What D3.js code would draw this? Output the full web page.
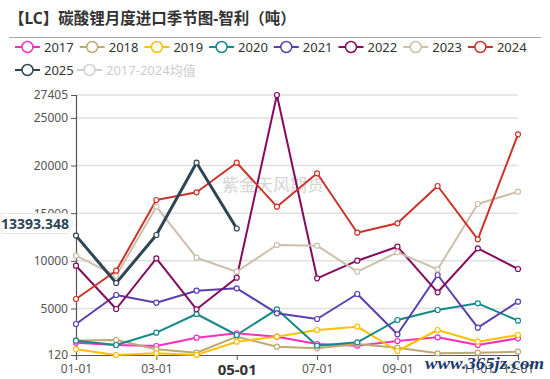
<!DOCTYPE html>
<html><head><meta charset="utf-8">
<script src="https://cdn.jsdelivr.net/npm/d3@7/dist/d3.min.js"></script>
<style>body{margin:0;background:#fff;}svg{display:block;font-family:"Noto Sans","Noto Sans CJK SC",sans-serif;}</style>
</head><body><svg id="c" width="550" height="379"></svg>
<script>
const months = ["01-01","02-01","03-01","04-01","05-01","06-01","07-01","08-01","09-01","10-01","11-01","12-01"];
const xTickLabels = ["01-01","03-01","05-01","07-01","09-01","11-01","12-01"];
const yTicks = [120, 5000, 10000, 15000, 20000, 25000, 27405];
const seriesNames = ["2017","2018","2019","2020","2021","2022","2023","2024","2025","2017-2024均值"];
const colors = ["#ff2fbd","#bcaa72","#ffc000","#14898b","#5a3fb0","#850a5f","#cdbfab","#cc3329","#2f4554","#d0d0d0"];
const s2017 = [1411,1169,1064,1936,2397,2041,1274,1096,1589,1977,1169,1872];
const s2018 = [1650,1694,718,361,2041,991,823,1274,886,298,361,466];
const s2019 = [718,120,298,130,1516,2041,2744,3090,540,2744,1516,2219];
const s2020 = [1621,1169,2460,4422,2219,4916,1096,1453,3793,4843,5542,3720];
const s2021 = [3373,6416,5609,6868,7120,4496,3898,6521,2292,8515,2985,5714];
const s2022 = [9491,4947,10268,4916,8232,27405,8169,10016,11485,6700,11317,9145];
const s2023 = [10540,8431,15683,10330,8861,11663,11590,8861,10897,9113,15966,17257];
const s2024 = [5997,8966,16386,17194,20300,15683,19187,12954,13940,17855,12262,23280];
const s2025 = [12650,7676,12713,20300,13393];
const pointerValue = 13393.348;
const pointerMonth = "05-01";

const data = [s2017,s2018,s2019,s2020,s2021,s2022,s2023,s2024,s2025];
const svg = d3.select("#c");
const x = d3.scalePoint().domain(months).range([76, 518]);
const y = d3.scaleLinear().domain([120, 27405]).range([355, 95]);

// title
svg.append("text").attr("x", 9).attr("y", 24).attr("font-size", 15.5).attr("font-weight", "bold")
  .attr("fill", "#333").text("【LC】碳酸锂月度进口季节图-智利（吨）");
svg.append("line").attr("x1", 9).attr("x2", 541).attr("y1", 37.5).attr("y2", 37.5)
  .attr("stroke", "#aaa").attr("stroke-width", 1);

// legend
seriesNames.forEach((n, i) => {
  const row = i < 8 ? 0 : 1;
  const col = i < 8 ? i : i - 8;
  const lx = 15 + col * 64.7 - (i===9 ? 2.7 : 0);
  const ly = row === 0 ? 47 : 70;
  const g = svg.append("g").attr("transform", `translate(${lx},${ly})`);
  g.append("line").attr("x1", 0).attr("x2", 25).attr("y1", 0).attr("y2", 0).attr("stroke", colors[i]).attr("stroke-width", 2);
  g.append("circle").attr("cx", 12.5).attr("cy", 0).attr("r", 5.5).attr("fill", "#fff").attr("stroke", colors[i]).attr("stroke-width", 1.5);
  g.append("text").attr("x", 29).attr("y", 4.5).attr("font-size", 13).attr("fill", i === 9 ? "#ccc" : "#333").text(n);
});

// grid
svg.append("g").selectAll("line").data(yTicks.filter(t => t > 120)).join("line")
  .attr("x1", 76).attr("x2", 518).attr("y1", d => y(d)).attr("y2", d => y(d))
  .attr("stroke", "#e0e0e0").attr("stroke-width", 1.5);

// watermark
svg.append("text").attr("x", 222).attr("y", 191).attr("font-size", 17).attr("fill", "#d4d4d4").text("紫金天风期货");

// axes
const yAxis = d3.axisLeft(y).tickValues(yTicks).tickSize(5).tickPadding(3).tickFormat(d3.format("d"));
const gy = svg.append("g").attr("transform", "translate(76,0)").call(yAxis);
gy.select(".domain").attr("stroke", "#555").attr("stroke-width", 1.2);
gy.selectAll(".tick line").attr("stroke", "#555");
gy.selectAll("text").attr("font-size", 12).attr("fill", "#555").attr("font-family", "Noto Sans");

const xAxis = d3.axisBottom(x).tickValues(xTickLabels).tickSize(5).tickPadding(4);
const gx = svg.append("g").attr("transform", "translate(0,355)").call(xAxis);
gx.select(".domain").attr("stroke", "#555").attr("stroke-width", 1.2);
gx.selectAll(".tick line").attr("stroke", "#555");
gx.selectAll("text").attr("font-size", 12).attr("fill", "#555").attr("font-family", "Noto Sans")
  .filter(d => d === pointerMonth).attr("font-size", 15).attr("font-weight", "bold").attr("fill", "#333");

// lines
const line = d3.line().x((d, i) => x(months[i])).y(d => y(d));
data.forEach((s, k) => {
  svg.append("path").datum(s).attr("d", line).attr("fill", "none")
    .attr("stroke", colors[k]).attr("stroke-width", k === 8 ? 3 : 2).attr("stroke-linejoin", "round");
});
data.forEach((s, k) => {
  svg.append("g").selectAll("circle").data(s).join("circle")
    .attr("cx", (d, i) => x(months[i])).attr("cy", d => y(d)).attr("r", 2.5)
    .attr("fill", "#fff").attr("stroke", colors[k]).attr("stroke-width", 1.2);
});

// y axis pointer label
const py = y(pointerValue) - 5;
const lg = svg.append("g");
lg.append("path").attr("d", `M1,${py-10} H67 L73,${py} L67,${py+10} H1 Z`)
  .attr("fill", "#fff").attr("stroke", "#e6e6e6");
lg.append("text").attr("x", 1).attr("y", py + 5).attr("font-size", 14).attr("font-weight", "bold")
  .attr("fill", "#2f4554").text(d3.format(".3f")(pointerValue));

// site watermark
svg.append("text").attr("x", 425).attr("y", 369).attr("font-size", 17).attr("font-weight", "bold")
  .attr("font-style", "italic").attr("textLength", 119).attr("lengthAdjust", "spacingAndGlyphs")
  .attr("font-family", "Liberation Serif, serif").attr("fill", "#1b3a6e").text("www.365jz.com");
</script></body></html>
